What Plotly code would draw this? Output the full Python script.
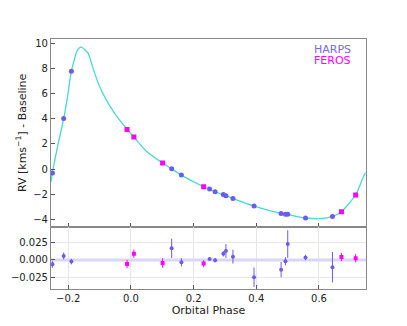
import plotly.graph_objects as go
from plotly.subplots import make_subplots

# HARPS data (phase, RV, residual, residual error)
harps_phase = [-0.2505, -0.2145, -0.190, 0.130, 0.161, 0.251, 0.2686, 0.2948, 0.303, 0.3255,
               0.3928, 0.4792, 0.493, 0.5003, 0.557, 0.643]
harps_rv = [-0.32, 4.03, 7.8, 0.02, -0.48, -1.59, -1.81, -2.02, -2.13, -2.34,
            -2.95, -3.54, -3.61, -3.61, -3.9, -3.78]
harps_res = [-0.0063, 0.0058, -0.0024, 0.0168, -0.0034, 0.0014, -0.0005, 0.009, 0.013, 0.0048,
             -0.025, -0.014, -0.002, 0.023, 0.0034, -0.0106]
harps_err = [0.005, 0.005, 0.004, 0.014, 0.006, 0.002, 0.003, 0.004, 0.010, 0.010,
             0.014, 0.011, 0.006, 0.020, 0.004, 0.022]

# FEROS data
feros_phase = [-0.0124, 0.0094, 0.101, 0.232, 0.6716, 0.717]
feros_rv = [3.16, 2.55, 0.48, -1.41, -3.40, -2.06]
feros_res = [-0.006, 0.009, -0.0043, -0.0053, 0.0043, 0.0024]
feros_err = [0.006, 0.006, 0.007, 0.005, 0.006, 0.006]

# Model curve
model_phase = [-0.2545, -0.2505, -0.2315, -0.2145, -0.204, -0.19, -0.179, -0.1735, -0.159, -0.137,
               -0.126, -0.1157, -0.100, -0.0787, -0.0525, -0.0156, 0.0094, 0.05, 0.101, 0.13,
               0.161, 0.232, 0.2686, 0.303, 0.3255, 0.3928, 0.4792, 0.5003, 0.557, 0.6035,
               0.643, 0.6716, 0.717, 0.737, 0.748]
model_rv = [-1.0, -0.32, 2.1, 4.03, 5.5, 7.8, 8.84, 9.35, 9.72, 9.24,
            8.45, 7.65, 6.58, 5.52, 4.46, 3.27, 2.55, 1.4, 0.48, 0.02,
            -0.48, -1.41, -1.81, -2.13, -2.34, -2.95, -3.54, -3.63, -3.9, -3.96,
            -3.78, -3.40, -2.05, -0.9, -0.3]

x_ticks = [-0.2, 0.0, 0.2, 0.4, 0.6]
x_tick_labels = ["\u22120.2", "0.0", "0.2", "0.4", "0.6"]
y_top_ticks = [-4, -2, 0, 2, 4, 6, 8, 10]
y_top_labels = ["\u22124", "\u22122", "0", "2", "4", "6", "8", "10"]
y_bot_ticks = [-0.025, 0.0, 0.025]
y_bot_labels = ["\u22120.025", "0.000", "0.025"]

HARPS_C = "#6A5CF0"
FEROS_C = "#FF00FF"
MODEL_C = "#48D8D0"
FONT = "DejaVu Sans"

fig = make_subplots(rows=2, cols=1, shared_xaxes=True, vertical_spacing=0,
                    row_heights=[0.751, 0.249])

fig.add_trace(go.Scatter(x=model_phase, y=model_rv, mode="lines",
                         line=dict(color=MODEL_C, width=1.3, shape="spline", smoothing=0.7),
                         hoverinfo="skip"), row=1, col=1)
fig.add_trace(go.Scatter(x=harps_phase, y=harps_rv, mode="markers",
                         marker=dict(color=HARPS_C, size=5, symbol="circle")), row=1, col=1)
fig.add_trace(go.Scatter(x=feros_phase, y=feros_rv, mode="markers",
                         marker=dict(color=FEROS_C, size=5, symbol="square")), row=1, col=1)

# zero line in residuals
fig.add_trace(go.Scatter(x=[-0.255, 0.75], y=[0, 0], mode="lines",
                         line=dict(color="#DAD6FA", width=3), hoverinfo="skip"), row=2, col=1)
fig.add_trace(go.Scatter(x=harps_phase, y=harps_res, mode="markers",
                         error_y=dict(type="data", array=harps_err, color=HARPS_C, thickness=1, width=0),
                         marker=dict(color=HARPS_C, size=4, symbol="circle")), row=2, col=1)
fig.add_trace(go.Scatter(x=feros_phase, y=feros_res, mode="markers",
                         error_y=dict(type="data", array=feros_err, color=FEROS_C, thickness=1, width=0),
                         marker=dict(color=FEROS_C, size=4, symbol="square")), row=2, col=1)

axis_common = dict(showline=True, mirror=True, linecolor="#888888", linewidth=1.2,
                   ticks="inside", ticklen=4, tickcolor="#555555", zeroline=False,
                   automargin=False,
                   tickfont=dict(family=FONT, size=10, color="#222222"))

fig.update_xaxes(range=[-0.255, 0.75], tickvals=x_ticks, ticktext=x_tick_labels, **axis_common)
fig.update_xaxes(showgrid=False, showticklabels=False, row=1, col=1)
fig.update_xaxes(showgrid=True, gridcolor="#E6E6E6", gridwidth=1, row=2, col=1,
                 title=dict(text="Orbital Phase", font=dict(family=FONT, size=11, color="#222222"),
                            standoff=2))
fig.update_yaxes(range=[-4.6, 10.37], tickvals=y_top_ticks, ticktext=y_top_labels,
                 showgrid=False, row=1, col=1,
                 title=dict(text="RV [kms<sup>\u22121</sup>] - Baseline",
                            font=dict(family=FONT, size=11, color="#222222"), standoff=4),
                 **axis_common)
fig.update_yaxes(range=[-0.042, 0.048], tickvals=y_bot_ticks, ticktext=y_bot_labels,
                 showgrid=True, gridcolor="#E6E6E6", gridwidth=1, row=2, col=1, **axis_common)

fig.add_annotation(x=0.955, y=0.958, xref="paper", yref="paper", xanchor="right", yanchor="middle",
                   text="HARPS", showarrow=False, borderpad=0,
                   font=dict(family=FONT, size=11, color="#7B68EE"))
fig.add_annotation(x=0.955, y=0.914, xref="paper", yref="paper", xanchor="right", yanchor="middle",
                   text="FEROS", showarrow=False, borderpad=0,
                   font=dict(family=FONT, size=11, color=FEROS_C))

# page body has an 8px margin, so the figure is sized to sit inside the 407x326 window
fig.update_layout(width=399, height=318, margin=dict(l=43, r=41, t=31, b=37),
                  showlegend=False, plot_bgcolor="white", paper_bgcolor="white",
                  font=dict(family=FONT))

fig.write_html("out.html")
